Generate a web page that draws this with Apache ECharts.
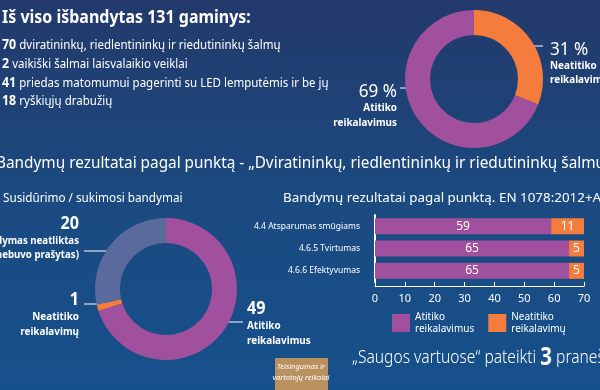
<!DOCTYPE html>
<html><head><meta charset="utf-8">
<script src="https://cdn.jsdelivr.net/npm/echarts@6/dist/echarts.min.js"></script>
<style>html,body{margin:0;padding:0;background:#1b4a80}#c{width:600px;height:390px}</style>
</head><body><div id="c"></div>
<script>
const totalTitle = 'Iš viso išbandytas 131 gaminys:';
const productCounts = [70, 2, 41, 18];
const productNames = ['dviratininkų, riedlentininkų ir riedutininkų šalmų', 'vaikiški šalmai laisvalaikio veiklai', 'priedas matomumui pagerinti su LED lemputėmis ir be jų', 'ryškiųjų drabužių'];
const overallNames = ['Neatitiko reikalavimų', 'Atitiko reikalavimus'];
const overallPct = [31, 69];
const sectionTitle = 'Bandymų rezultatai pagal punktą - „Dviratininkų, riedlentininkų ir riedutininkų šalmų“';
const impactTitle = 'Susidūrimo / sukimosi bandymai';
const impactNames = ['Atitiko reikalavimus', 'Neatitiko reikalavimų', 'Bandymas neatliktas (nebuvo prašytas)'];
const impactValues = [49, 1, 20];
const barTitle = 'Bandymų rezultatai pagal punktą. EN 1078:2012+A1:2012';
const clauseCats = ['4.4 Atsparumas smūgiams', '4.6.5 Tvirtumas', '4.6.6 Efektyvumas'];
const clausePass = [59, 65, 65];
const clauseFail = [11, 5, 5];
const legendNames = ['Atitiko\nreikalavimus', 'Neatitiko\nreikalavimų'];
const reportsCount = 3;

const PURPLE = '#a0509c', ORANGE = '#f47d3d', GREY = '#5a6a9c', WHITE = '#ffffff';
const FONT = '"Noto Sans", sans-serif';

const chart = echarts.init(document.getElementById('c'), null, {renderer: 'canvas'});

function txt(x, y, text, opt, sx) {
  return {type: 'text', x: x, y: y, scaleX: sx || 1,
    style: Object.assign({x: 0, y: 0, text: text, fill: WHITE, font: '13px ' + FONT, textVerticalAlign: 'middle'}, opt || {})};
}
function leader(x1, y, x2) {
  return [
    {type: 'line', shape: {x1: x1, y1: y, x2: x2, y2: y}, style: {stroke: WHITE, lineWidth: 1}},
    {type: 'circle', shape: {cx: x2, cy: y, r: 1.6}, style: {fill: WHITE}}
  ];
}
const LBL = 'bold 11px ' + FONT;
const graphics = [];
graphics.push(txt(2, 18, totalTitle, {font: 'bold 17px ' + FONT}, 0.94));
const lineYs = [45, 64, 83, 101];
productCounts.forEach((c, i) => {
  graphics.push({type: 'text', x: 2, y: lineYs[i], scaleX: 0.92, style: {x: 0, y: 0, textVerticalAlign: 'middle', text: '{b|' + c + '} {n|' + productNames[i] + '}',
    rich: {b: {fontFamily: FONT, fontSize: 13.5, fontWeight: 'bold', fill: WHITE, color: WHITE}, n: {fontFamily: FONT, fontSize: 12.5, fill: WHITE, color: WHITE}}}});
});
// pie 1 labels
graphics.push(txt(550, 50, overallPct[0] + ' %', {font: '18px ' + FONT}, 0.95));
graphics.push(txt(550, 66, 'Neatitiko', {font: LBL}, 0.9));
graphics.push(txt(550, 80, 'reikalavimų', {font: LBL}, 0.9));
graphics.push(...leader(543, 46, 517));
graphics.push(txt(397, 92, overallPct[1] + ' %', {font: '18px ' + FONT, textAlign: 'right'}, 0.95));
graphics.push(txt(397, 108, 'Atitiko', {font: LBL, textAlign: 'right'}, 0.9));
graphics.push(txt(397, 123, 'reikalavimus', {font: LBL, textAlign: 'right'}, 0.9));
graphics.push(...leader(400, 88, 424));
// section headers
graphics.push(txt(-4, 164, sectionTitle, {font: '15.5px ' + FONT}, 0.99));
graphics.push(txt(3, 198, impactTitle, {font: '13px ' + FONT}, 0.9));
graphics.push(txt(283, 198, barTitle, {font: '13px ' + FONT}, 1.03));
// pie 2 labels
graphics.push(txt(79, 224, String(impactValues[2]), {font: 'bold 17px ' + FONT, textAlign: 'right'}, 0.95));
graphics.push(txt(79, 241, 'Bandymas neatliktas', {font: LBL, textAlign: 'right'}, 0.88));
graphics.push(txt(79, 255, '(nebuvo prašytas)', {font: LBL, textAlign: 'right'}, 0.88));
graphics.push(...leader(84, 251, 120));
graphics.push(txt(79, 300, String(impactValues[1]), {font: 'bold 17px ' + FONT, textAlign: 'right'}, 0.95));
graphics.push(txt(79, 317, 'Neatitiko', {font: LBL, textAlign: 'right'}, 0.9));
graphics.push(txt(79, 332, 'reikalavimų', {font: LBL, textAlign: 'right'}, 0.9));
graphics.push(...leader(84, 304, 108));
graphics.push(txt(247, 309, String(impactValues[0]), {font: 'bold 17px ' + FONT}, 0.95));
graphics.push(txt(247, 326, 'Atitiko', {font: LBL}, 0.9));
graphics.push(txt(247, 341, 'reikalavimus', {font: LBL}, 0.9));
graphics.push(...leader(243, 322, 213));
// tan box
graphics.push({type: 'rect', shape: {x: 275, y: 358, width: 53, height: 40}, style: {fill: '#b8915f'}});
graphics.push(txt(301, 367, 'Teisingumas ir', {font: 'italic 7.5px ' + FONT, textAlign: 'center'}));
graphics.push(txt(301, 378, 'vartotojų reikalai', {font: 'italic 7.5px ' + FONT, textAlign: 'center'}));
// reports
graphics.push({type: 'text', x: 352, y: 358, scaleX: 0.82, style: {x: 0, y: 0, textVerticalAlign: 'middle', text: '{n|„Saugos vartuose“ pateikti }{b|' + reportsCount + '}{n| pranešimai}',
  rich: {n: {fontFamily: FONT, fontSize: 19, fontWeight: 300, fill: WHITE, color: WHITE}, b: {fontFamily: FONT, fontSize: 25, fontWeight: 'bold', fill: WHITE, color: WHITE}}}});

const option = {
  backgroundColor: {type: 'linear', x: 0, y: 0, x2: 0, y2: 1, colorStops: [{offset: 0, color: '#23396b'}, {offset: 0.5, color: '#1b4a80'}, {offset: 1, color: '#16508b'}]},
  animation: false,
  textStyle: {fontFamily: FONT},
  legend: {
    data: legendNames, left: 387, top: 306, itemWidth: 18, itemHeight: 18, itemGap: 14, icon: 'rect',
    textStyle: {color: WHITE, fontSize: 10, lineHeight: 12}
  },
  grid: {left: 375, right: 16, top: 215, height: 67, containLabel: false},
  xAxis: {
    type: 'value', min: 0, max: 70, interval: 10, offset: 4,
    axisLine: {show: true, lineStyle: {color: WHITE}},
    axisTick: {show: true, inside: true, length: 4, lineStyle: {color: WHITE}},
    axisLabel: {color: WHITE, fontSize: 11, margin: 7},
    splitLine: {show: false}
  },
  yAxis: {
    type: 'category', data: clauseCats, inverse: true, offset: 7,
    axisLine: {show: true, lineStyle: {color: WHITE, width: 2}},
    axisTick: {show: true, inside: true, alignWithLabel: true, length: 5, lineStyle: {color: WHITE, width: 2}},
    axisLabel: {color: WHITE, fontSize: 8.5, margin: 8}
  },
  series: [
    {type: 'bar', name: legendNames[0], stack: 's', data: clausePass, barWidth: 16, itemStyle: {color: PURPLE},
     label: {show: true, position: 'inside', color: WHITE, fontSize: 12}},
    {type: 'bar', name: legendNames[1], stack: 's', data: clauseFail, barWidth: 16, itemStyle: {color: ORANGE},
     label: {show: true, position: 'inside', color: WHITE, fontSize: 12}},
    {type: 'pie', center: [474, 79], radius: [44, 69], startAngle: 90, label: {show: false}, labelLine: {show: false}, emphasis: {disabled: true},
     data: [{name: overallNames[0], value: overallPct[0], itemStyle: {color: ORANGE}}, {name: overallNames[1], value: overallPct[1], itemStyle: {color: PURPLE}}]},
    {type: 'pie', center: [166, 289], radius: [46, 71], startAngle: 90, label: {show: false}, labelLine: {show: false}, emphasis: {disabled: true},
     data: impactValues.map((v, i) => ({name: impactNames[i], value: v, itemStyle: {color: [PURPLE, ORANGE, GREY][i]}}))}
  ],
  graphic: graphics
};
chart.setOption(option);
</script></body></html>
